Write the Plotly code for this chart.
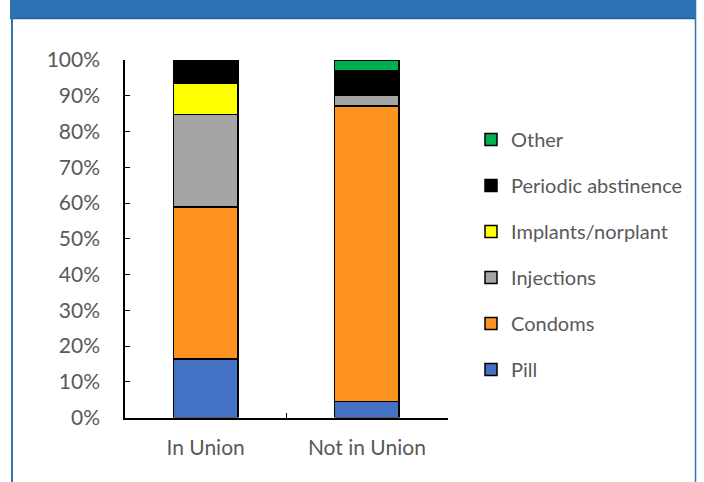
import plotly.graph_objects as go

# Datos (proporcion de usuarias por metodo)
categorias = ["In Union", "Not in Union"]
metodos = ["Pill", "Condoms", "Injections", "Implants/norplant", "Periodic abstinence", "Other"]
pill = [0.164, 0.045]
condoms = [0.425, 0.826]
injections = [0.259, 0.030]
implants = [0.087, 0.004]
periodic = [0.065, 0.064]
other = [0.0, 0.031]
colores = ["#4472C4", "#FF9322", "#A5A5A5", "#FFFF00", "#000000", "#00B050"]

W, H = 704, 482
fuente = "Lato, sans-serif"
gris = "#595959"
azul = "#2E74B5"

fig = go.Figure()

# Una barra apilada por metodo (leyenda en orden inverso via legendrank)
series = [pill, condoms, injections, implants, periodic, other]
for i, (nombre, valores) in enumerate(zip(metodos, series)):
    fig.add_trace(go.Bar(
        x=categorias,
        y=valores,
        name=nombre,
        legendgroup=nombre,
        legendrank=len(metodos) - i,
        marker_color=colores[i],
        marker_line=dict(color="black", width=1.5),
        width=0.4,
    ))

fig.update_layout(
    width=W,
    height=H,
    autosize=False,
    barmode="stack",
    plot_bgcolor="white",
    paper_bgcolor="white",
    margin=dict(l=0, r=0, t=0, b=0, pad=0, autoexpand=False),
    font=dict(family=fuente, size=21, color=gris),
    showlegend=True,
    legend=dict(
        x=471 / W,
        y=1 - 120 / H,
        xanchor="left",
        yanchor="top",
        traceorder="grouped",
        tracegroupgap=17,
        bgcolor="rgba(0,0,0,0)",
        font=dict(family=fuente, size=20, color=gris),
        itemwidth=30,
    ),
    xaxis=dict(
        domain=[125 / W, 447.5 / W],
        automargin=False,
        showline=True,
        linecolor="black",
        linewidth=1.5,
        ticks="inside",
        tickson="boundaries",
        ticklen=5,
        tickcolor="black",
        ticklabelstandoff=11,
        tickfont=dict(family=fuente, size=21, color=gris),
    ),
    yaxis=dict(
        domain=[1 - 417.5 / H, 1 - 60 / H],
        automargin=False,
        range=[0, 1],
        dtick=0.1,
        tickformat=".0%",
        showgrid=False,
        zeroline=False,
        showline=True,
        linecolor="black",
        linewidth=1.5,
        ticks="inside",
        ticklen=5,
        tickcolor="black",
        ticklabelstandoff=19,
        tickfont=dict(family=fuente, size=21, color=gris),
    ),
)

# Marco azul: cabecera y bordes laterales
fig.add_shape(type="rect", xref="paper", yref="paper",
              x0=10 / W, x1=696 / W, y0=1 - 19 / H, y1=1,
              fillcolor=azul, line_width=0, layer="above")
fig.add_shape(type="line", xref="paper", yref="paper",
              x0=10 / W, x1=696 / W, y0=1 - 18.5 / H, y1=1 - 18.5 / H,
              line=dict(color="#25609A", width=1.5), layer="above")
fig.add_shape(type="line", xref="paper", yref="paper",
              x0=12 / W, x1=12 / W, y0=0, y1=1,
              line=dict(color=azul, width=2), layer="above")
fig.add_shape(type="line", xref="paper", yref="paper",
              x0=695.5 / W, x1=695.5 / W, y0=0, y1=1,
              line=dict(color=azul, width=1.5), layer="above")

# Quitar el margen del body para que la figura ocupe toda la ventana
fig.write_html("out.html", config={"displayModeBar": False},
               post_script="document.body.style.margin='0';")
